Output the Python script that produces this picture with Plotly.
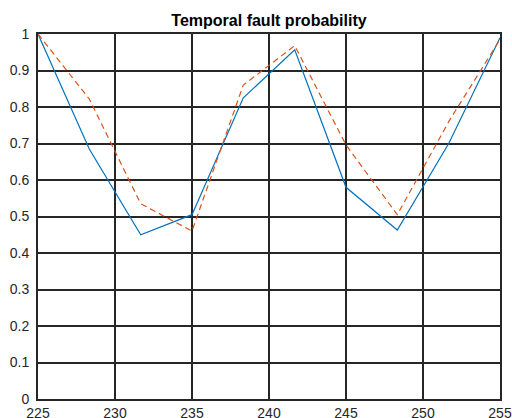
import plotly.graph_objects as go

x_vals = [225, 228.33, 231.67, 235, 238.33, 241.67, 245, 248.33, 251.67, 255]
blue_vals = [1.0, 0.685, 0.45, 0.505, 0.825, 0.957, 0.58, 0.463, 0.70, 0.99]
orange_vals = [1.0, 0.822, 0.535, 0.46, 0.86, 0.968, 0.696, 0.505, 0.76, 0.985]
title_text = "Temporal fault probability"

BLUE = "#0072BD"
ORANGE = "#D95319"
AX = "#262626"
FONT = "Liberation Sans, Arial, sans-serif"

fig = go.Figure()
fig.add_trace(go.Scatter(x=x_vals, y=blue_vals, mode="lines",
                         line=dict(color=BLUE, width=1.2)))
fig.add_trace(go.Scatter(x=x_vals, y=orange_vals, mode="lines",
                         line=dict(color=ORANGE, width=1.2, dash="6px,4px")))

fig.update_layout(
    template="none",
    width=512, height=418,
    margin=dict(l=38, r=12, t=34, b=19),
    paper_bgcolor="white", plot_bgcolor="white",
    showlegend=False,
    title=dict(text="<b>" + title_text + "</b>", x=269 / 512, xanchor="center",
               yref="container", y=1 - 20 / 418, yanchor="middle",
               font=dict(family=FONT, size=16, color="black")),
    font=dict(family=FONT, size=14, color=AX),
)
fig.update_xaxes(range=[225, 255], dtick=5, tick0=225, showgrid=True,
                 gridcolor=AX, gridwidth=2, showline=True, mirror=True,
                 linecolor=AX, linewidth=2, zeroline=False, ticks="",
                 automargin=False, ticklabelstandoff=0,
                 tickfont=dict(family=FONT, size=14, color=AX))
fig.update_yaxes(range=[0, 1], dtick=0.1, tick0=0, showgrid=True,
                 gridcolor=AX, gridwidth=2, showline=True, mirror=True,
                 linecolor=AX, linewidth=2, zeroline=False, ticks="",
                 automargin=False, ticklabelstandoff=4,
                 tickfont=dict(family=FONT, size=14, color=AX))

fig.write_html("out.html", config={"displayModeBar": False},
               post_script="document.body.style.margin='0';document.body.style.padding='0';")
